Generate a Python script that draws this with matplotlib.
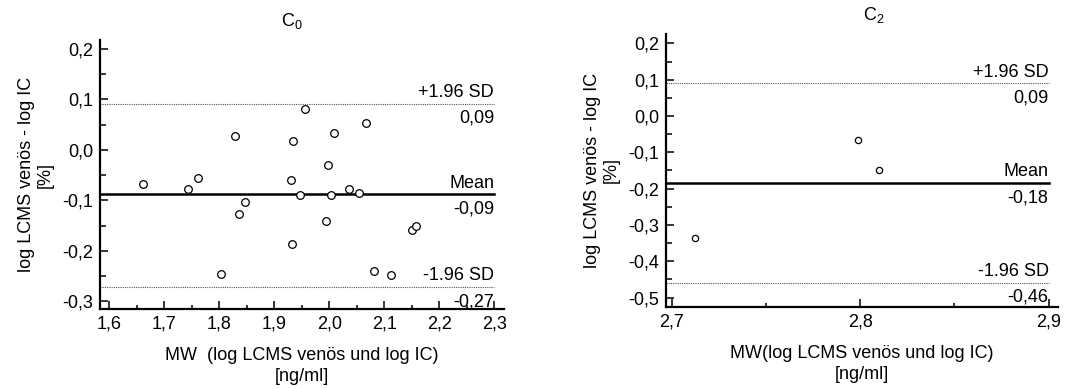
import matplotlib
matplotlib.use("Agg")
import matplotlib.pyplot as plt
from matplotlib.ticker import MultipleLocator, FuncFormatter

plt.rcParams['font.family'] = ['Liberation Sans', 'DejaVu Sans']
plt.rcParams['mathtext.fontset'] = 'custom'
plt.rcParams['mathtext.rm'] = 'Liberation Sans'
plt.rcParams['mathtext.it'] = 'Liberation Sans'

# ---- data: C0 ----
c0_mean_x = [1.661, 1.743, 1.761, 1.803, 1.829, 1.835, 1.847, 1.930, 1.934, 1.933,
             1.947, 1.956, 1.995, 1.998, 2.004, 2.009, 2.036, 2.055, 2.067, 2.082,
             2.113, 2.150, 2.158]
c0_diff_y = [-0.068, -0.077, -0.055, -0.246, 0.028, -0.127, -0.104, -0.060, 0.017, -0.186,
             -0.089, 0.081, -0.140, -0.030, -0.090, 0.034, -0.077, -0.085, 0.053, -0.240,
             -0.248, -0.158, -0.151]
c0_mean, c0_upper, c0_lower = -0.088, 0.092, -0.272
c0_labels = ["0,09", "-0,09", "-0,27"]

# ---- data: C2 ----
c2_mean_x = [2.7125, 2.799, 2.810]
c2_diff_y = [-0.337, -0.065, -0.149]
c2_mean, c2_upper, c2_lower = -0.184, 0.090, -0.459
c2_labels = ["0,09", "-0,18", "-0,46"]

FS = 13

fig = plt.figure(figsize=(10.77, 3.88), dpi=100)

def comma(fmt):
    return FuncFormatter(lambda v, p: (fmt % v).replace('.', ','))

def style(ax):
    for s in ['top', 'right']:
        ax.spines[s].set_visible(False)
    for s in ['left', 'bottom']:
        ax.spines[s].set_linewidth(1.6)
    ax.tick_params(which='major', direction='in', length=6, width=1.1, labelsize=FS, pad=5)
    ax.tick_params(which='minor', direction='in', length=3, width=1.1)
    ax.tick_params(axis='y', which='minor', length=4)

def ba(ax, xs, ys, mean, up, lo, labels, x0, x1, ms, title, tx, xlabel):
    ax.plot(xs, ys, linestyle='none', marker='o', markersize=ms,
            markerfacecolor='white', markeredgecolor='black', markeredgewidth=0.9, zorder=3)
    ax.plot([x0, x1], [mean, mean], color='black', lw=1.8, zorder=2)
    ax.plot([x0, x1], [up, up], color='#555555', lw=0.8, ls=(0, (1, 1)), zorder=2)
    ax.plot([x0, x1], [lo, lo], color='#555555', lw=0.8, ls=(0, (1, 1)), zorder=2)
    for yv, top, bot in [(up, '+1.96 SD', labels[0]), (mean, 'Mean', labels[1]), (lo, '-1.96 SD', labels[2])]:
        ax.annotate(top, (x1, yv), xytext=(0, 2), textcoords='offset points',
                    ha='right', va='bottom', fontsize=FS)
        ax.annotate(bot, (x1, yv), xytext=(0, -4.5), textcoords='offset points',
                    ha='right', va='top', fontsize=FS)
    ax.set_title(title, fontsize=FS, pad=10, x=tx)
    ax.set_xlabel(xlabel, fontsize=FS, linespacing=1.3, labelpad=10)
    ax.set_ylabel('log LCMS venös - log IC\n[%]', fontsize=FS, linespacing=1.15, labelpad=6)

# Left panel
ax1 = fig.add_axes([100/1077, 1-309/388, 404/1077, 269/388])
style(ax1)
ba(ax1, c0_mean_x, c0_diff_y, c0_mean, c0_upper, c0_lower, c0_labels,
   1.583, 2.3, 5.5, r'C$_\mathregular{0}$', 0.475, 'MW  (log LCMS venös und log IC)\n[ng/ml]')
ax1.set_xlim(1.583, 2.318)
ax1.set_ylim(-0.3155, 0.218)
ax1.xaxis.set_major_locator(MultipleLocator(0.1))
ax1.xaxis.set_minor_locator(MultipleLocator(0.05))
ax1.yaxis.set_major_locator(MultipleLocator(0.1))
ax1.yaxis.set_minor_locator(MultipleLocator(0.05))
ax1.xaxis.set_major_formatter(comma('%.1f'))
ax1.yaxis.set_major_formatter(comma('%.1f'))

# Right panel
ax2 = fig.add_axes([666/1077, 1-307/388, 392/1077, 273/388])
style(ax2)
ba(ax2, c2_mean_x, c2_diff_y, c2_mean, c2_upper, c2_lower, c2_labels,
   2.697, 2.9, 4.5, r'C$_\mathregular{2}$', 0.53, 'MW(log LCMS venös und log IC)\n[ng/ml]')
ax2.set_xlim(2.697, 2.905)
ax2.set_ylim(-0.526, 0.226)
ax2.xaxis.set_major_locator(MultipleLocator(0.1))
ax2.xaxis.set_minor_locator(MultipleLocator(0.05))
ax2.yaxis.set_major_locator(MultipleLocator(0.1))
ax2.yaxis.set_minor_locator(MultipleLocator(0.05))
ax2.xaxis.set_major_formatter(comma('%.1f'))
ax2.yaxis.set_major_formatter(comma('%.1f'))

fig.savefig('out.png', dpi=100)
